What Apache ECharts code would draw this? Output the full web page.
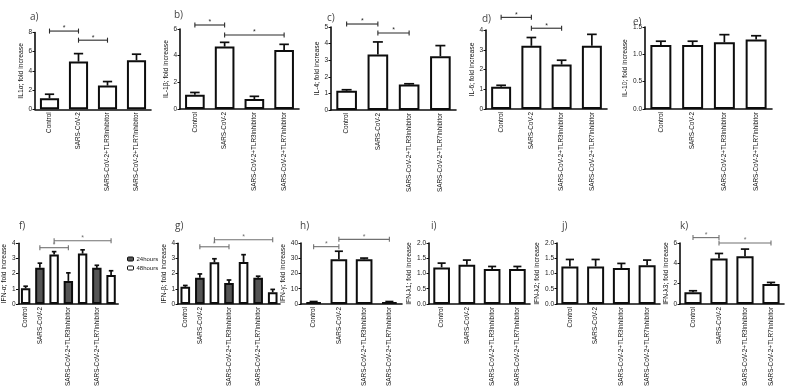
<!DOCTYPE html>
<html><head><meta charset="utf-8">
<script src="https://cdn.jsdelivr.net/npm/echarts@6/dist/echarts.min.js"></script>
<style>html,body{margin:0;padding:0;background:#fff}#c{width:789px;height:389px}</style>
</head><body><div id="c"></div>
<script>
// ---- data ----
const groups = ['Control', 'SARS-CoV-2', 'SARS-CoV-2+TLR3inhibitor', 'SARS-CoV-2+TLR7inhibitor'];
const timeLabels = ['Control', 'SARS-CoV-2', '', 'SARS-CoV-2+TLR3inhibitor', '', 'SARS-CoV-2+TLR7inhibitor', ''];
const timeKinds = ['48hours', '24hours', '48hours', '24hours', '48hours', '24hours', '48hours'];

const il1a = [1.15, 4.97, 2.47, 5.11];      const il1aErr = [1.57, 5.80, 2.89, 5.74];
const il1b = [1.07, 4.68, 0.75, 4.43];      const il1bErr = [1.24, 5.00, 0.95, 4.85];
const il4  = [1.16, 3.34, 1.54, 3.24];      const il4Err  = [1.22, 4.10, 1.58, 3.88];
const il6  = [1.13, 3.20, 2.25, 3.20];      const il6Err  = [1.20, 3.62, 2.47, 3.78];
const il10 = [1.17, 1.17, 1.22, 1.27];      const il10Err = [1.24, 1.24, 1.36, 1.34];
const ifna = [1.03, 2.38, 3.26, 1.52, 3.32, 2.38, 1.91]; const ifnaErr = [1.17, 2.69, 3.45, 2.05, 3.57, 2.55, 2.19];
const ifnb = [1.13, 1.73, 2.75, 1.38, 2.77, 1.73, 0.77]; const ifnbErr = [1.22, 1.98, 2.98, 1.58, 3.25, 1.83, 0.96];
const ifng = [1.3, 29.3, 29.3, 1.3];        const ifngErr = [1.6, 34.6, 30.1, 1.6];
const ifnl1 = [1.20, 1.29, 1.15, 1.15];     const ifnl1Err = [1.34, 1.44, 1.23, 1.23];
const ifnl2 = [1.23, 1.23, 1.18, 1.27];     const ifnl2Err = [1.46, 1.46, 1.33, 1.44];
const ifnl3 = [1.15, 4.47, 4.70, 1.97];     const ifnl3Err = [1.30, 4.97, 5.40, 2.12];

// significance brackets: [fromIndex, toIndex, level]
const sigA = [[0, 1, 8.15], [1, 2, 7.2]];
const sigB = [[0, 1, 6.3], [1, 3, 5.55]];
const sigC = [[0, 1, 5.18], [1, 2, 4.64]];
const sigD = [[0, 1, 4.64], [1, 2, 4.09]];
const sigF = [[1, 3, 3.71], [2, 6, 4.17]];
const sigG = [[1, 3, 3.77], [2, 6, 4.23]];
const sigH = [[0, 1, 37.6], [1, 3, 42.4]];
const sigK = [[0, 1, 6.53], [1, 3, 6.0]];

// ---- panels (layout) ----
const panels = [
  {letter:'a)', name:'IL1α; fold increase',  v:il1a, e:il1aErr, sig:sigA, max:8,   step:2,   dec:0, g:[35,32.5,116,76.8],  gap:9.5, lt:[25,7],  row:0},
  {letter:'b)', name:'IL-1β; fold increase', v:il1b, e:il1bErr, sig:sigB, max:6,   step:2,   dec:0, g:[180,29,119,80],     gap:10.5, lt:[169,5], row:0},
  {letter:'c)', name:'IL-4; fold increase',  v:il4,  e:il4Err,  sig:sigC, max:5,   step:1,   dec:0, g:[331,27,125,83],     gap:8,   lt:[322,8], row:0},
  {letter:'d)', name:'IL-6; fold increase',  v:il6,  e:il6Err,  sig:sigD, max:4,   step:1,   dec:0, g:[486,30,121,79],     gap:10,  lt:[477,9], row:0},
  {letter:'e)', name:'IL-10; fold increase', v:il10, e:il10Err, sig:[],   max:1.5, step:0.5, dec:1, g:[645,27,127,82],     gap:15,  lt:[628,12], row:0},
  {letter:'f)', name:'IFN-α; fold increase', v:ifna, e:ifnaErr, sig:sigF, max:4,   step:1,   dec:0, g:[18.2,243.3,100,68.4], gap:9, lt:[14,216], row:1, time:true},
  {letter:'g)', name:'IFN-β; fold increase', v:ifnb, e:ifnbErr, sig:sigG, max:4,   step:1,   dec:0, g:[178,243.3,102,68.4], gap:9, lt:[170,216], row:1, time:true},
  {letter:'h)', name:'IFN-γ; fold increase', v:ifng, e:ifngErr, sig:sigH, max:40,  step:10,  dec:0, g:[301,243,101,67],    gap:10.5, lt:[295,216], row:1},
  {letter:'i)', name:'IFN-λ1; fold increase', v:ifnl1, e:ifnl1Err, sig:[], max:2, step:0.5,  dec:1, g:[429,243,101,68],    gap:14,  lt:[426,216], row:1},
  {letter:'j)', name:'IFN-λ2; fold increase', v:ifnl2, e:ifnl2Err, sig:[], max:2, step:0.5,  dec:1, g:[557,243,103,68],    gap:12,  lt:[557,216], row:1},
  {letter:'k)', name:'IFN-λ3; fold increase', v:ifnl3, e:ifnl3Err, sig:sigK, max:6, step:2,   dec:0, g:[680,243,104,68],    gap:7,   lt:[675,216], row:1}
];

const FONT = '"Liberation Sans", Arial, sans-serif';
const INK = '#0d0d0d';

function errRender(params, api) {
  const p1 = api.coord([api.value(0), api.value(1)]);
  const p2 = api.coord([api.value(0), api.value(2)]);
  const half = api.size([1, 0])[0] * 0.16;
  const st = {stroke: INK, lineWidth: 1.7};
  return {type: 'group', children: [
    {type: 'line', shape: {x1: p1[0], y1: p1[1], x2: p2[0], y2: p2[1]}, style: st},
    {type: 'line', shape: {x1: p2[0] - half, y1: p2[1], x2: p2[0] + half, y2: p2[1]}, style: st}
  ]};
}
function sigRenderer(color) {
  return function (params, api) {
    const a = api.coord([api.value(0), api.value(2)]);
    const b = api.coord([api.value(1), api.value(2)]);
    const cap = 2.5, st = {stroke: color, lineWidth: 1.1};
    return {type: 'group', children: [
      {type: 'line', shape: {x1: a[0], y1: a[1], x2: b[0], y2: a[1]}, style: st},
      {type: 'line', shape: {x1: a[0], y1: a[1] - cap, x2: a[0], y2: a[1] + cap}, style: st},
      {type: 'line', shape: {x1: b[0], y1: b[1] - cap, x2: b[0], y2: b[1] + cap}, style: st},
      {type: 'text', style: {text: '*', x: (a[0] + b[0]) / 2, y: a[1] + 1, align: 'center', verticalAlign: 'bottom',
        fill: color, font: '7px ' + FONT}}
    ]};
  };
}

const grid = [], xAxis = [], yAxis = [], series = [], title = [];
panels.forEach((p, i) => {
  grid.push({left: p.g[0], top: p.g[1], width: p.g[2], height: p.g[3], containLabel: false});
  const labels = p.time ? timeLabels : groups;
  const catData = p.time ? timeLabels.map((l, k) => l || ' '.repeat(k)) : groups;
  xAxis.push({
    type: 'category', gridIndex: i, data: catData,
    axisLine: {lineStyle: {color: INK, width: 1.6}},
    axisTick: {alignWithLabel: true, length: 2.5, lineStyle: {color: INK, width: 1},
      interval: (k) => labels[k] !== ''},
    axisLabel: {rotate: 90, fontSize: 6.4, fontFamily: FONT, color: '#111', margin: 3, interval: 0,
      formatter: (val) => val.trim()}
  });
  yAxis.push({
    type: 'value', gridIndex: i, min: 0, max: p.max, interval: p.step,
    name: p.name, nameLocation: 'middle', nameGap: p.gap, nameRotate: 90,
    nameTextStyle: {fontSize: 6.8, fontFamily: FONT, color: '#111'},
    axisLine: {show: true, lineStyle: {color: INK, width: 1.6}},
    axisTick: {show: true, length: 2.5, lineStyle: {color: INK, width: 1}},
    splitLine: {show: false},
    axisLabel: {fontSize: 6.5, fontFamily: FONT, color: '#222', margin: 3,
      formatter: (v) => v.toFixed(p.dec)}
  });
  title.push({text: p.letter, left: p.lt[0], top: p.lt[1],
    textStyle: {fontSize: 10, fontWeight: 'normal', fontFamily: '"Open Sans", sans-serif', color: '#444'}});

  const border = {borderColor: INK, borderWidth: 2};
  if (p.time) {
    ['24hours', '48hours'].forEach((kind) => {
      series.push({
        type: 'bar', name: kind, xAxisIndex: i, yAxisIndex: i,
        data: p.v.map((v, k) => timeKinds[k] === kind ? v : '-'),
        barGap: '-100%', barCategoryGap: '34%',
        itemStyle: Object.assign({color: kind === '24hours' ? '#555' : '#fff'}, border)
      });
    });
  } else {
    series.push({
      type: 'bar', name: p.name, xAxisIndex: i, yAxisIndex: i, data: p.v,
      barCategoryGap: '34%', itemStyle: Object.assign({color: '#fff'}, border)
    });
  }
  series.push({
    type: 'custom', xAxisIndex: i, yAxisIndex: i, renderItem: errRender, z: 5,
    encode: {x: 0, y: [1, 2]},
    data: p.v.map((v, k) => [k, v, p.e[k]])
  });
  if (p.sig.length) {
    series.push({
      type: 'custom', xAxisIndex: i, yAxisIndex: i, z: 6,
      renderItem: sigRenderer(p.row === 0 ? '#2a2a2a' : '#707070'),
      encode: {x: [0, 1], y: 2},
      data: p.sig
    });
  }
});

const chart = echarts.init(document.getElementById('c'), null, {renderer: 'canvas'});
chart.setOption({
  animation: false,
  backgroundColor: '#fff',
  title, grid, xAxis, yAxis, series,
  legend: {
    data: ['24hours', '48hours'], orient: 'vertical', left: 127, top: 256,
    itemWidth: 6, itemHeight: 4, itemGap: 3, padding: 0,
    textStyle: {fontSize: 6, fontFamily: FONT, color: '#222', padding: [0, 0, 0, -2]},
    itemStyle: {borderWidth: 1}
  }
});
</script></body></html>
